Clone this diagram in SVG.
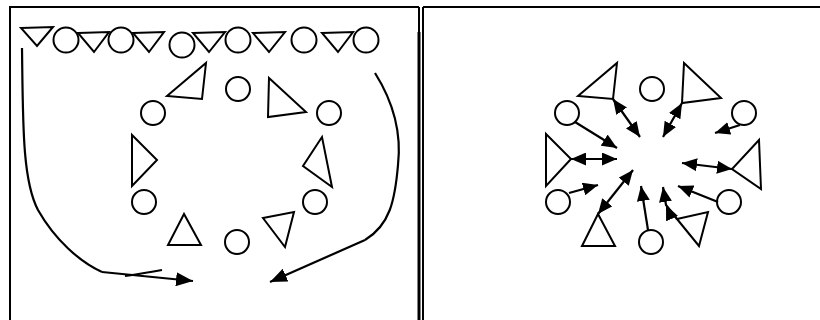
<svg xmlns="http://www.w3.org/2000/svg" width="820" height="320" viewBox="0 0 820 320">
<defs>
<style>
.s{fill:#fff;stroke:#000;stroke-width:2}
.f{fill:none;stroke:#000;stroke-width:2}
.c{fill:none;stroke:#000;stroke-width:2.2}
</style>
<marker id="ah" viewBox="0 0 15 13" refX="15" refY="6.5" markerWidth="15" markerHeight="13" markerUnits="userSpaceOnUse" orient="auto"><path d="M0,0 L15,6.5 L0,13 Z" fill="#000"/></marker>
<marker id="as" viewBox="0 0 15 13" refX="15" refY="6.5" markerWidth="15" markerHeight="13" markerUnits="userSpaceOnUse" orient="auto-start-reverse"><path d="M0,0 L15,6.5 L0,13 Z" fill="#000"/></marker>
<marker id="ab" viewBox="0 0 17 14" refX="17" refY="7" markerWidth="17" markerHeight="14" markerUnits="userSpaceOnUse" orient="auto"><path d="M0,0 L17,7 L0,14 Z" fill="#000"/></marker>
</defs>
<g id="frame">
<path class="f" d="M9,7 H419 M10,7 V320 M419,7 V320 M423,7 V320 M423,7 H820"/>
<path d="M419,32 V320" stroke="#000" stroke-width="3"/>
</g>
<g id="top-row">
<polygon class="s" points="21,28 53,27 37,46"/>
<circle class="s" cx="66" cy="40" r="12.5"/>
<polygon class="s" points="78,33 109,32 94,52"/>
<circle class="s" cx="121" cy="40" r="12.5"/>
<polygon class="s" points="133,33 164,32 149,52"/>
<circle class="s" cx="182" cy="45" r="12.5"/>
<polygon class="s" points="193,33 225,32 209,52"/>
<circle class="s" cx="238" cy="40" r="12.5"/>
<polygon class="s" points="253,33 285,32 269,52"/>
<circle class="s" cx="304" cy="40" r="12.5"/>
<polygon class="s" points="322,33 353,32 338,52"/>
<circle class="s" cx="366" cy="40" r="12.5"/>
</g>
<g id="left-ring">
<polygon class="s" points="167,96 206,63 202,99"/>
<circle class="s" cx="238" cy="89" r="12"/>
<polygon class="s" points="269,78 306,112 268,117"/>
<circle class="s" cx="329" cy="113" r="12"/>
<circle class="s" cx="153" cy="113" r="12"/>
<polygon class="s" points="132,135 157,160 132,186"/>
<polygon class="s" points="322,137 303,166 332,187"/>
<circle class="s" cx="144" cy="202" r="12"/>
<circle class="s" cx="315" cy="202" r="12"/>
<polygon class="s" points="184,214 168,245 201,245"/>
<circle class="s" cx="237" cy="242" r="12"/>
<polygon class="s" points="263,218 294,212 285,247"/>
</g>
<g id="right-ring">
<polygon class="s" points="578,96 617,63 613,99"/>
<circle class="s" cx="652" cy="89" r="12"/>
<polygon class="s" points="684,63 721,98 682,103"/>
<circle class="s" cx="744" cy="113" r="12"/>
<circle class="s" cx="567" cy="113" r="12"/>
<polygon class="s" points="546,134 571,159 546,186"/>
<polygon class="s" points="759,140 732,169 761,189"/>
<circle class="s" cx="558" cy="202" r="12"/>
<circle class="s" cx="729" cy="202" r="12"/>
<polygon class="s" points="598,214 582,246 615,246"/>
<circle class="s" cx="651" cy="242" r="12"/>
<polygon class="s" points="677,219 708,212 699,246"/>
</g>
<g id="connectors">
<path class="c" d="M22,48 C23,120 22,180 38,210 C55,240 80,262 102,272" />
<path class="c" d="M102,272 L193,281" marker-end="url(#ab)"/>
<path class="c" stroke-width="1.5" d="M125,276 C140,274 150,272 162,270"/>
<path class="c" d="M375,73 C392,100 402,130 398,165 C395,200 390,225 365,240"/>
<path class="c" stroke-width="3" d="M365,240 L270,282" marker-end="url(#ab)"/>
<path class="c" d="M613,99 L640,137" marker-start="url(#as)" marker-end="url(#as)"/>
<path class="c" d="M682,103 L663,137" marker-start="url(#as)" marker-end="url(#as)"/>
<path class="c" d="M740,125 L715,133" marker-end="url(#ah)"/>
<path class="c" d="M575,122 L617,148" marker-end="url(#ah)"/>
<path class="c" d="M571,159 L617,159" marker-start="url(#as)" marker-end="url(#as)"/>
<path class="c" d="M732,169 L682,163" marker-start="url(#as)" marker-end="url(#as)"/>
<path class="c" d="M569,193 L598,185" marker-end="url(#ah)"/>
<path class="c" d="M598,214 L633,170" marker-start="url(#as)" marker-end="url(#as)"/>
<path class="c" d="M648,230 L641,186" marker-end="url(#ah)"/>
<path class="c" d="M677,219 L666,205 L663,187" marker-mid="url(#ah)" marker-end="url(#ah)"/>
<path class="c" d="M718,202 L678,186" marker-end="url(#ah)"/>
</g>
</svg>
